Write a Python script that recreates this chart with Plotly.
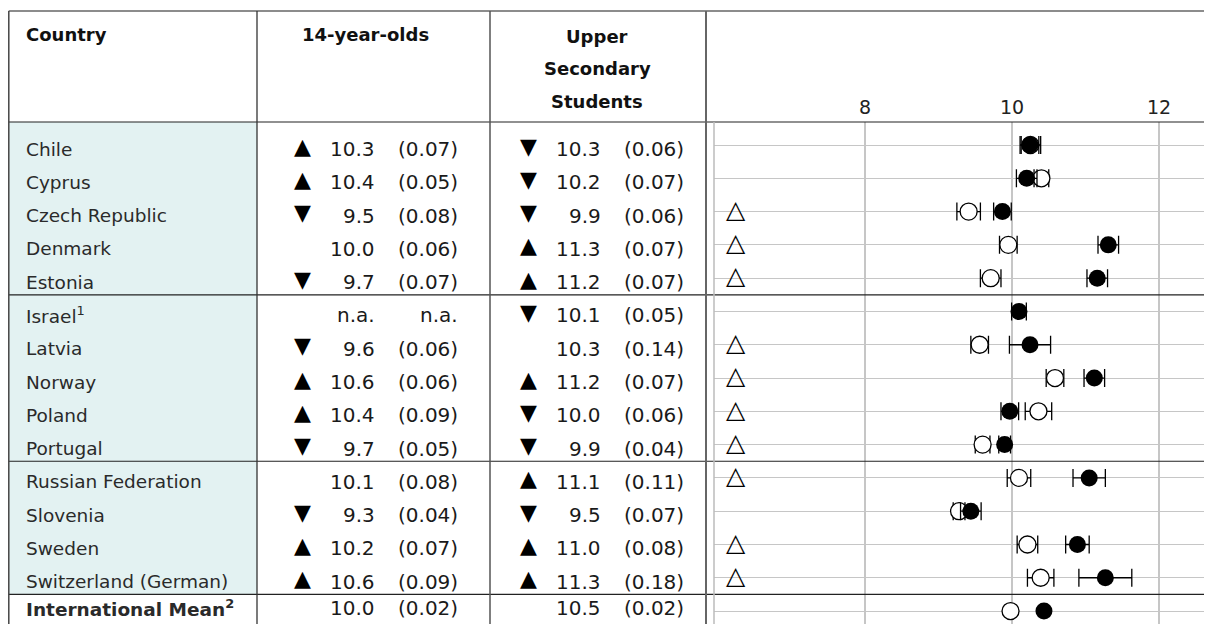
import plotly.graph_objects as go

# the page body keeps its default 8px margin, so the figure is placed at (8, 8)
W, H = 1212, 624
OFF = 8
FW, FH = W - OFF, H - OFF

# rows of the table (top to bottom)
countries = [
    "Chile", "Cyprus", "Czech Republic", "Denmark", "Estonia",
    "Israel<sup>1</sup>", "Latvia", "Norway", "Poland", "Portugal",
    "Russian Federation", "Slovenia", "Sweden", "Switzerland (German)",
    "<b>International Mean<sup>2</sup></b>",
]

# 14-year-olds: table text, standard errors, significance arrows
age14_txt = ["10.3", "10.4", "9.5", "10.0", "9.7", "n.a.", "9.6", "10.6", "10.4", "9.7",
             "10.1", "9.3", "10.2", "10.6", "10.0"]
age14_se = [0.07, 0.05, 0.08, 0.06, 0.07, None, 0.06, 0.06, 0.09, 0.05,
            0.08, 0.04, 0.07, 0.09, 0.02]
age14_sig = ["up", "up", "down", "", "down", "", "down", "up", "up", "down",
             "", "down", "up", "up", ""]

# upper secondary students
upper_txt = ["10.3", "10.2", "9.9", "11.3", "11.2", "10.1", "10.3", "11.2", "10.0", "9.9",
             "11.1", "9.5", "11.0", "11.3", "10.5"]
upper_se = [0.06, 0.07, 0.06, 0.07, 0.07, 0.05, 0.14, 0.07, 0.06, 0.04,
            0.11, 0.07, 0.08, 0.18, 0.02]
upper_sig = ["down", "down", "down", "up", "up", "down", "", "up", "down", "down",
             "up", "down", "up", "up", ""]

# plotted means
age14_mean = [10.25, 10.40, 9.41, 9.95, 9.71, None, 9.56, 10.585, 10.36, 9.60,
              10.095, 9.28, 10.21, 10.39, 9.98]
upper_mean = [10.245, 10.20, 9.87, 11.31, 11.16, 10.095, 10.245, 11.12, 9.97, 9.90,
              11.05, 9.44, 10.89, 11.27, 10.435]

# open triangle = significant difference between the two groups
diff_flag = [False, False, True, True, True, False, True, True, True, True,
             True, False, True, True, False]

x_ticks = [8, 10, 12]

FLAG_X = 6.24
ROW0_PX, ROW_STEP = 145.0, 33.29
PLOT_TOP, PLOT_LEFT = 122, 714
FONT = "DejaVu Sans"


def px(x):
    return (x - OFF) / FW


def py(y):
    return 1 - (y - OFF) / FH


n = len(countries)
rows = list(range(n))
y_top = (PLOT_TOP - ROW0_PX) / ROW_STEP
y_bot = (H - ROW0_PX) / ROW_STEP
x_lo = 10 - (1012 - PLOT_LEFT) / 73.5
x_hi = 10 + (W - 1012) / 73.5

fig = go.Figure()

body = rows[:-1]
# 14-year-olds (open circles)
r14 = [i for i in body if age14_mean[i] is not None]
fig.add_trace(go.Scatter(
    x=[age14_mean[i] for i in r14], y=r14, mode="markers",
    marker=dict(symbol="circle", size=17, color="white", line=dict(color="black", width=1.3)),
    error_x=dict(type="data", array=[2 * age14_se[i] for i in r14], color="black",
                 thickness=1.3, width=9),
    showlegend=False, hoverinfo="skip",
))
# upper secondary (filled circles)
fig.add_trace(go.Scatter(
    x=[upper_mean[i] for i in body], y=body, mode="markers",
    marker=dict(symbol="circle", size=17, color="black"),
    error_x=dict(type="data", array=[2 * upper_se[i] for i in body], color="black",
                 thickness=1.3, width=9),
    showlegend=False, hoverinfo="skip",
))
# international mean, no bars
last = rows[-1]
fig.add_trace(go.Scatter(
    x=[age14_mean[last]], y=[last], mode="markers",
    marker=dict(symbol="circle", size=17, color="white", line=dict(color="black", width=1.3)),
    showlegend=False, hoverinfo="skip",
))
fig.add_trace(go.Scatter(
    x=[upper_mean[last]], y=[last], mode="markers",
    marker=dict(symbol="circle", size=17, color="black"),
    showlegend=False, hoverinfo="skip",
))
flag_rows = [i for i in rows if diff_flag[i]]
fig.add_trace(go.Scatter(
    x=[FLAG_X] * len(flag_rows), y=flag_rows, mode="text", text=["△"] * len(flag_rows),
    textfont=dict(family=FONT, size=25, color="black"), textposition="middle center",
    showlegend=False, hoverinfo="skip",
))

ann = []
hdr = dict(family=FONT, size=18, color="#111")
for text, x, y, anchor in [
    ("<b>Country</b>", 24, 35, "left"),
    ("<b>14-year-olds</b>", 365, 35, "center"),
    ("<b>Upper</b>", 597, 37, "center"),
    ("<b>Secondary</b>", 597, 69, "center"),
    ("<b>Students</b>", 597, 101, "center"),
]:
    ann.append(dict(text=text, x=px(x), y=py(y), xref="paper", yref="paper",
                    xanchor=anchor, yanchor="middle", showarrow=False, font=hdr))

name_font = dict(family=FONT, size=18.5, color="#2a2a2a")
num_font = dict(family=FONT, size=20, color="#1a1a1a")
tri_font = dict(family=FONT, size=22, color="black")
arrow = {"up": "▲", "down": "▼"}


def cell(text, x, row, anchor, font, shift):
    ann.append(dict(text=text, x=px(x), y=row, xref="paper", yref="y", xanchor=anchor,
                    yanchor="middle", yshift=shift, showarrow=False, font=font))


for i in rows:
    shift = 3 if i == last else -4
    cell(countries[i], 24, i, "left", name_font, shift)
    if age14_sig[i]:
        cell(arrow[age14_sig[i]], 302, i, "center", tri_font, shift + 3)
    cell(age14_txt[i], 377, i, "right", num_font, shift)
    cell("n.a." if age14_se[i] is None else f"({age14_se[i]:.2f})", 460, i, "right",
         num_font, shift)
    if upper_sig[i]:
        cell(arrow[upper_sig[i]], 528, i, "center", tri_font, shift + 3)
    cell(upper_txt[i], 603, i, "right", num_font, shift)
    cell(f"({upper_se[i]:.2f})", 686, i, "right", num_font, shift)

shapes = []


def hline(y, x0, x1, color, width, yref="paper"):
    yy = py(y) if yref == "paper" else y
    shapes.append(dict(type="line", xref="paper", yref=yref, x0=px(x0), x1=px(x1),
                       y0=yy, y1=yy, line=dict(color=color, width=width)))


def vline(x, y0, y1, color, width):
    shapes.append(dict(type="line", xref="paper", yref="paper", x0=px(x), x1=px(x),
                       y0=py(y0), y1=py(y1), line=dict(color=color, width=width)))


shapes.append(dict(type="rect", xref="paper", yref="y", x0=px(8.7), x1=px(257),
                   y0=y_top, y1=13.5, fillcolor="#e3f2f2", line=dict(width=0), layer="below"))
hline(11, 8.7, W, "#666", 1.5)
hline(PLOT_TOP, 8.7, W, "#222", 1.2)
for g in (4.5, 9.5, 13.5):
    hline(g, 8.7, W, "#222", 1.2, yref="y")
vline(8.8, 11, H, "#444", 1.5)
vline(257, 11, H, "#333", 1.3)
vline(490, 11, H, "#555", 1.5)
vline(706, 11, H, "#666", 2)
vline(PLOT_LEFT, PLOT_TOP, H, "#bbbbbb", 1.5)

fig.update_layout(
    width=FW, height=FH,
    margin=dict(l=0, r=0, t=0, b=0),
    paper_bgcolor="white", plot_bgcolor="white",
    xaxis=dict(domain=[px(PLOT_LEFT), 1], range=[x_lo, x_hi], side="top",
               tickvals=x_ticks, ticktext=[str(t) for t in x_ticks],
               showgrid=True, gridcolor="#c6c6c6", gridwidth=1.5, zeroline=False,
               showline=False, ticks="", ticklabelstandoff=3,
               tickfont=dict(family=FONT, size=19, color="#222")),
    yaxis=dict(domain=[0, py(PLOT_TOP)], range=[y_bot, y_top], tickvals=rows,
               showticklabels=False, showgrid=True, gridcolor="#c6c6c6", gridwidth=1.2,
               zeroline=False, showline=False, ticks=""),
    annotations=ann,
    shapes=shapes,
)

fig.write_html("out.html")
